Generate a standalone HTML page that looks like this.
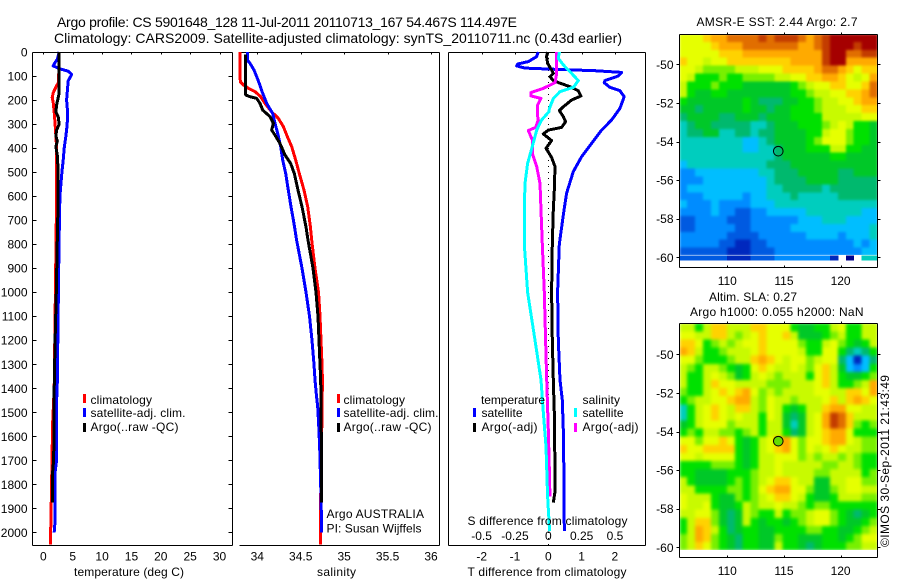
<!DOCTYPE html>
<html>
<head>
<meta charset="utf-8">
<style>
html,body{margin:0;padding:0;background:#fff;}
svg{display:block;}
text{font-family:"Liberation Sans",sans-serif;font-size:12px;fill:#000;}
</style>
</head>
<body>
<svg id="figure" xmlns="http://www.w3.org/2000/svg" width="900" height="580" viewBox="0 0 900 580">
<defs>
<filter id="sst-smooth" filterUnits="userSpaceOnUse" x="680" y="35" width="197" height="220" color-interpolation-filters="sRGB">
<feGaussianBlur stdDeviation="1.4" edgeMode="duplicate"/>
</filter>
<filter id="sla-smooth" filterUnits="userSpaceOnUse" x="680" y="324" width="197" height="226" color-interpolation-filters="sRGB">
<feGaussianBlur stdDeviation="1.6" edgeMode="duplicate"/>
</filter>
</defs>
<rect x="0" y="0" width="900" height="580" fill="#fff"/>
<text x="57" y="27" style="font-size:14px" textLength="460" lengthAdjust="spacing">Argo profile: CS 5901648_128 11-Jul-2011 20110713_167 54.467S 114.497E</text>
<text x="54" y="43" style="font-size:14px" textLength="568" lengthAdjust="spacing">Climatology: CARS2009. Satellite-adjusted climatology: synTS_20110711.nc (0.43d earlier)</text>

<g id="layer-maps"></g>
<g id="layer-lines"></g>

<g>
<rect x="83" y="394" width="3" height="9" fill="#f00"/>
<text x="90.5" y="404" textLength="61.5">climatology</text>
<rect x="83" y="408" width="3" height="9" fill="#00f"/>
<text x="90.5" y="417" textLength="95">satellite-adj. clim.</text>
<rect x="83" y="423" width="3" height="9" fill="#000"/>
<text x="90.5" y="431" textLength="88">Argo(..raw -QC)</text>
</g>

<g>
<rect x="337" y="394" width="3" height="9" fill="#f00"/>
<text x="343.5" y="404" textLength="61.5">climatology</text>
<rect x="337" y="408" width="3" height="9" fill="#00f"/>
<text x="343.5" y="417" textLength="95">satellite-adj. clim.</text>
<rect x="337" y="423" width="3" height="9" fill="#000"/>
<text x="343.5" y="431" textLength="88">Argo(..raw -QC)</text>
<text x="326.5" y="518" textLength="97.5">Argo AUSTRALIA</text>
<text x="326.5" y="532.5" textLength="95">PI: Susan Wijffels</text>
</g>

<g>
<text x="481" y="404" textLength="64">temperature</text>
<rect x="473" y="408" width="3" height="9" fill="#00f"/>
<text x="481.5" y="417" textLength="41">satellite</text>
<rect x="473" y="423" width="3" height="9" fill="#000"/>
<text x="481.5" y="431" textLength="56">Argo(-adj)</text>
<text x="582.5" y="404" textLength="37.5">salinity</text>
<rect x="574" y="408" width="3" height="9" fill="#0ff"/>
<text x="582.5" y="417" textLength="41">satellite</text>
<rect x="574" y="423" width="3" height="9" fill="#f0f"/>
<text x="582.5" y="431" textLength="56">Argo(-adj)</text>
</g>

<text x="74" y="576" textLength="110">temperature (deg C)</text>
<text x="317" y="576" textLength="39">salinity</text>
<text x="467.5" y="525" textLength="160">S difference from climatology</text>
<text x="467.5" y="576" textLength="159">T difference from climatology</text>

<text x="696.5" y="26" textLength="161">AMSR-E SST: 2.44  Argo: 2.7</text>
<text x="709" y="301" textLength="88">Altim. SLA: 0.27</text>
<text x="690" y="316" textLength="173.5">Argo h1000: 0.055 h2000: NaN</text>
<text transform="translate(889,547) rotate(-90)" x="0" y="0" textLength="172">©IMOS 30-Sep-2011 21:43:49</text>
</svg>

<script>
/* ---------- depth ticks ---------- */
var depthTicks = [0,100,200,300,400,500,600,700,800,900,1000,1100,1200,1300,1400,1500,1600,1700,1800,1900,2000];

/* ---------- temperature panel ---------- */
var tempTicks = [0,5,10,15,20,25,30];
var tempClimDepth = [0,100,130,140,170,190,210,250,300,350,400,500,600,800,1000,1200,1400,1550,1800,1950,2050];
var tempClimValue = [2.7,2.6,2.52,2.25,1.67,1.5,1.67,1.84,2.0,2.13,2.25,2.25,2.25,2.15,2.05,1.95,1.84,1.56,1.39,1.28,1.2];
var tempSatDepth = [0,30,45,58,70,80,93,100,120,150,200,250,300,350,400,450,500,600,800,1000,1200,1400,1450,1700,1750,1950,2000];
var tempSatValue = [2.7,2.36,1.96,1.67,2.81,4.23,4.8,4.68,4.23,4.12,3.95,4.12,4.05,3.83,3.55,3.38,3.15,2.81,2.65,2.55,2.45,2.35,2.25,2.25,2.0,2.0,1.84];
var tempArgoDepth = [0,170,190,220,250,270,300,325,350,370,395,430,500,600,800,1000,1200,1400,1550,1700,1750,1876];
var tempArgoValue = [2.7,2.7,2.52,2.25,2.13,2.52,2.7,2.25,2.13,2.36,2.13,2.36,2.52,2.52,2.35,2.2,2.0,1.84,1.84,1.73,1.56,1.56];

/* ---------- salinity panel ---------- */
var salTicks = [34,34.5,35,35.5,36];
var salTickLabels = ['34','34.5','35','35.5','36'];
var salClimDepth = [0,100,124,137,151,165,186,214,249,276,311,353,394,450,506,575,644,728,783,900,1000,1100,1200,1300,1365,1500,1850,2050];
var salClimValue = [33.80,33.80,33.805,33.839,33.897,33.974,34.039,34.089,34.165,34.242,34.30,34.346,34.396,34.442,34.484,34.538,34.58,34.611,34.626,34.664,34.705,34.722,34.733,34.745,34.749,34.745,34.73,34.725];
var salSatDepth = [0,33,47,75,103,131,172,214,256,297,339,394,450,506,575,644,714,783,900,1000,1100,1200,1300,1365,1428,1477,1553,1650,1851,2000];
var salSatValue = [33.885,33.885,33.916,33.962,33.993,34.023,34.062,34.108,34.177,34.204,34.235,34.269,34.292,34.327,34.357,34.388,34.423,34.453,34.515,34.561,34.601,34.63,34.653,34.664,34.68,34.695,34.707,34.718,34.733,34.741];
var salArgoDepth = [10,179,186,193,214,242,269,297,325,346,381,429,464,506,575,644,728,783,900,1000,1100,1200,1300,1365,1600,1876];
var salArgoValue = [33.866,33.866,33.916,33.993,34.031,34.062,34.146,34.185,34.165,34.204,34.261,34.319,34.384,34.426,34.469,34.515,34.561,34.584,34.641,34.676,34.699,34.71,34.722,34.73,34.737,34.737];

/* ---------- difference panel ---------- */
var diffTTicks = [-2,-1,0,1,2];
var diffSTicks = [-0.5,-0.25,0,0.25,0.5];
var diffSTickLabels = ['-0.5','-0.25','0','0.25','0.5'];
var diffTSatDepth = [0,19,40,50,58,67,72,78,85,100,119,128,147,161,186,235,283,325,380,436,498,588,658,800,1000,1200,1365,1449,1573,1781,1995];
var diffTSatValue = [-0.30,-0.35,-0.60,-0.92,-0.95,-0.70,0.20,1.40,2.20,2.10,1.70,1.68,1.85,2.15,2.28,2.15,1.90,1.60,1.30,1.00,0.75,0.55,0.47,0.33,0.28,0.30,0.35,0.42,0.45,0.47,0.48];
var diffTArgoDepth = [0,19,47,75,89,103,119,130,144,161,183,200,228,244,269,290,314,325,341,369,401,439,477,575,658,800,1000,1200,1365,1500,1750,1830,1876];
var diffTArgoValue = [-0.02,-0.05,-0.02,0.10,0.15,0.05,0.15,0.35,0.65,0.90,0.98,0.70,0.45,0.33,0.45,0.52,0.40,0.0,-0.15,0.10,-0.07,0.10,0.20,0.18,0.15,0.12,0.10,0.12,0.15,0.18,0.20,0.20,0.15];
var diffSArgoDepth = [0,89,128,151,169,183,193,221,262,283,314,327,366,422,477,547,658,800,1000,1200,1365,1573,1781,1850];
var diffSArgoValue = [0.063,0.063,0.05,-0.037,-0.13,-0.13,-0.055,-0.08,-0.082,-0.075,-0.095,-0.15,-0.12,-0.12,-0.087,-0.062,-0.055,-0.045,-0.03,-0.02,-0.012,0.0,0.01,0.012];
var diffSSatDepth = [0,26,54,82,119,147,165,193,235,248,283,325,394,464,547,658,800,1000,1200,1365,1504,1643,1850,1995];
var diffSSatValue = [0.083,0.075,0.113,0.163,0.225,0.188,0.088,0.038,0.008,0.005,-0.05,-0.087,-0.12,-0.155,-0.175,-0.18,-0.18,-0.155,-0.10,-0.055,-0.037,-0.017,-0.005,0.01];

/* ---------- maps ---------- */
var lonTicks = [110,115,120];
var latTicks = [-50,-52,-54,-56,-58,-60];
var floatLon = 114.5;
var floatLat = -54.5;
var sstLevels = [
[11,11,11,12,13,13,14,14,14,14,15,14,15,15,15,14,13,14,15,16,16,16,16,16,16],
[11,11,11,11,12,13,13,13,14,14,14,14,14,14,14,13,13,14,15,16,16,16,15,16,16],
[11,11,11,11,11,12,12,12,13,13,13,13,13,13,13,13,13,13,15,16,16,14,14,15,15],
[12,11,11,10,11,11,12,12,12,12,12,12,12,12,13,13,13,13,15,16,16,13,13,13,13],
[11,11,10,9,9,9,9,10,10,10,11,11,11,12,12,12,12,13,14,14,13,12,11,12,12],
[11,10,8,8,8,9,8,8,9,9,9,9,10,10,11,11,12,12,13,13,12,11,10,11,13],
[10,8,8,8,9,8,8,8,7,7,7,7,7,7,8,9,10,11,11,12,12,11,11,12,14],
[10,8,7,7,8,8,7,7,7,7,7,7,7,7,8,8,9,10,10,11,11,12,12,13,14],
[8,7,7,7,7,7,7,7,8,7,6,6,6,7,7,8,8,9,10,10,11,11,12,13,13],
[7,7,6,7,7,7,7,7,8,7,7,6,7,7,8,8,8,9,10,10,10,11,11,12,12],
[6,7,7,7,7,6,6,7,7,7,6,7,7,7,8,8,8,8,10,10,10,10,10,11,11],
[5,6,7,7,6,6,6,6,6,5,5,6,7,7,7,8,8,8,9,10,11,10,8,8,7],
[5,6,6,7,7,5,5,6,6,5,6,6,7,7,7,7,8,8,10,11,11,9,8,8,7],
[5,5,5,5,5,5,5,5,4,4,5,6,7,7,7,7,8,9,11,11,11,9,8,8,7],
[5,5,5,5,5,5,5,5,4,4,5,5,6,7,7,7,8,8,8,10,10,8,8,7,7],
[5,5,5,5,5,5,5,5,5,5,5,5,6,7,7,7,7,7,7,8,8,7,7,7,7],
[4,5,5,5,5,5,5,5,5,5,5,6,6,6,7,7,7,7,7,7,7,7,7,7,7],
[3,3,4,4,4,4,4,4,4,4,5,5,6,6,6,7,7,7,7,7,6,6,7,7,7],
[3,3,3,4,4,4,4,4,4,4,4,5,6,6,6,6,7,7,7,7,6,6,6,6,6],
[3,4,4,4,4,4,4,4,4,4,4,5,5,6,6,6,6,6,5,6,6,6,6,6,6],
[3,3,3,4,4,4,4,4,3,4,4,5,5,5,6,5,5,5,5,5,6,6,6,6,6],
[4,3,3,3,4,3,3,3,3,4,4,4,5,5,5,5,5,5,5,5,5,5,5,5,5],
[3,3,3,3,4,3,3,2,2,3,3,4,4,4,4,4,5,5,5,5,5,5,5,4,4],
[2,2,3,3,3,3,2,2,2,3,3,3,3,3,3,4,4,4,5,5,5,4,4,4,4],
[2,2,3,3,3,3,3,2,2,3,3,3,3,3,4,4,4,4,4,4,4,4,4,4,5],
[3,3,3,3,3,3,2,2,2,2,3,3,3,3,3,3,4,4,4,4,3,4,4,4,5],
[3,3,3,3,3,2,2,1,1,2,2,3,3,3,3,3,3,3,3,3,3,3,4,3,4],
[2,2,2,2,2,2,1,1,1,2,2,2,3,3,3,3,3,3,3,3,3,3,3,4,4],
[2,2,2,2,2,2,1,1,1,2,2,2,3,3,3,3,3,3,3,1,null,0,null,5,5]
];
var slaLevels = [
[10,10,8,10,12,12,10,10,10,12,12,11,11,11,8,7,7,8,8,10,11,8,8,10,10],
[11,11,10,10,12,12,10,9,10,11,12,11,11,12,10,7,7,7,8,9,10,8,8,10,10],
[12,12,11,8,9,10,9,10,11,11,12,11,11,11,11,9,8,8,10,11,9,8,7,8,10],
[13,12,10,8,8,9,10,10,10,11,12,11,11,11,11,10,8,8,11,11,8,6,5,6,8],
[11,11,9,8,8,8,9,10,10,12,13,12,11,10,11,11,9,10,11,11,6,4,1,4,6],
[10,9,8,10,10,9,8,7,8,11,12,11,10,10,11,10,9,11,12,10,7,4,3,4,8],
[10,8,8,10,11,10,9,7,8,10,11,10,9,10,10,10,8,11,12,10,8,7,7,8,9],
[10,8,8,10,12,11,11,10,10,10,10,9,9,9,10,10,10,11,12,10,8,8,9,10,13],
[9,8,8,10,11,12,11,12,13,11,9,10,9,10,10,10,10,11,11,10,10,12,12,11,13],
[8,9,10,10,11,11,12,13,13,10,9,11,10,10,9,10,10,10,11,12,10,12,13,12,11],
[5,8,10,11,12,11,10,12,12,10,9,11,10,8,7,8,10,10,12,13,13,11,11,10,10],
[5,8,10,11,12,11,10,11,10,10,8,11,10,7,6,7,10,11,13,15,14,12,10,10,10],
[7,8,10,11,11,11,9,10,10,10,8,10,10,7,5,7,10,11,13,15,14,12,9,8,9],
[8,9,8,10,10,9,9,8,9,10,8,10,10,8,6,7,10,11,12,13,13,11,8,8,8],
[11,11,9,11,11,12,11,8,7,8,10,11,13,13,11,9,11,11,12,13,13,11,10,9,9],
[12,11,11,12,12,12,12,8,7,8,10,11,12,13,11,9,11,10,11,12,11,10,10,9,9],
[11,11,10,11,11,11,11,8,7,8,10,10,11,11,11,9,10,9,10,10,9,10,9,8,8],
[8,8,8,8,9,9,9,8,7,8,10,10,11,10,10,10,10,10,9,9,10,10,9,8,8],
[8,8,7,7,7,7,8,8,8,9,10,10,11,10,10,10,10,9,9,10,10,10,10,8,9],
[10,8,7,7,7,7,8,9,8,9,10,11,12,12,11,10,10,7,7,10,10,11,11,9,9],
[10,10,8,8,8,8,9,9,8,9,11,12,13,13,11,11,9,7,7,9,10,11,11,10,10],
[11,10,10,10,8,7,7,9,8,9,10,11,12,12,11,10,8,7,7,8,10,10,10,9,9],
[11,10,10,11,8,7,7,8,10,9,10,10,11,10,10,9,8,9,9,8,8,8,8,8,8],
[10,10,11,11,9,7,6,7,10,9,8,8,10,8,9,9,10,11,11,9,8,7,6,7,8],
[8,10,12,12,9,7,6,7,10,8,7,8,8,7,8,9,10,11,11,9,8,7,7,8,9],
[8,10,13,12,10,8,6,7,8,8,7,7,8,8,8,8,9,9,8,8,7,7,8,9,10],
[9,10,13,12,9,8,7,6,8,8,7,7,9,8,8,7,7,7,8,8,7,8,9,11,11],
[9,10,12,11,9,8,7,6,8,8,7,7,10,8,8,7,6,7,8,8,8,9,9,10,10]
];

/* ---------- scales ---------- */
function yDepth(d){return 52+d*0.2402;}
function xTemp(t){return 43.4+t*5.87;}
function xSal(s){return 257.3+(s-34)*86.85;}
function xDiffT(t){return 548.3+t*33.3;}
function xDiffS(s){return 548.3+s*133.4;}
function xLon(lon){return 727.3+(lon-110)*11.33;}
function ySst(lat){return 64.3+(-50-lat)*19.3;}
function ySla(lat){return 354.3+(-50-lat)*19.3;}
function levelColor(v){return palette[v];}
var palette = ['#00008c','#0028be','#005ae1','#008cff','#00beff','#00cdbe','#00b96e','#00c828','#00e100','#78f000','#c8fa00','#e6ff00','#ffd200','#ffaa00','#e16e00','#c33c00','#a50000'];

/* ---------- helpers ---------- */
var NS='http://www.w3.org/2000/svg';
var layerLines=document.getElementById('layer-lines');
var layerMaps=document.getElementById('layer-maps');
function mk(tag,parent){var e=document.createElementNS(NS,tag);parent.appendChild(e);return e;}
function seg(parent,x1,y1,x2,y2){
  var e=mk('line',parent);
  e.setAttribute('x1',Math.round(x1)+0.5);
  e.setAttribute('y1',Math.round(y1)+0.5);
  e.setAttribute('x2',Math.round(x2)+0.5);
  e.setAttribute('y2',Math.round(y2)+0.5);
  e.setAttribute('stroke','#000');
  e.setAttribute('stroke-width','1');
  e.setAttribute('shape-rendering','crispEdges');
  return e;
}
function label(parent,x,y,str,anchor){
  var e=mk('text',parent);
  e.setAttribute('x',x);
  e.setAttribute('y',y);
  e.setAttribute('text-anchor',anchor);
  e.textContent=str;
  return e;
}
function series(parent,depths,values,xFn,color){
  var pts=[];
  for(var i=0;i<depths.length;i++){pts.push(xFn(values[i]).toFixed(1)+','+yDepth(depths[i]).toFixed(1));}
  var e=mk('polyline',parent);
  e.setAttribute('points',pts.join(' '));
  e.setAttribute('fill','none');
  e.setAttribute('stroke',color);
  e.setAttribute('stroke-width','3');
  e.setAttribute('shape-rendering','crispEdges');
  e.setAttribute('stroke-linejoin','round');
  return e;
}

/* ---------- temperature panel ---------- */
var gTemp=mk('g',layerLines);


[[32,52,232,52],[32,545,232,545],[32,52,32,545],[232,52,232,545]].forEach(function(s){
  var b=seg(gTemp,s[0],s[1],s[2],s[3]);
  
  
});
depthTicks.forEach(function(d){
  var y=yDepth(d);
  var tl=seg(gTemp,32,y,36,y);
  
  
  var tr=seg(gTemp,228,y,232,y);
  
  
  var t=label(gTemp,27.5,y+4.5,String(d),'end');
  
  
});
tempTicks.forEach(function(v){
  var x=xTemp(v);
  var tk=seg(gTemp,x,52,x,54);
  
  
  var t=label(gTemp,x,560.5,String(v),'middle');
  
  
});
var lineTempClim=series(gTemp,tempClimDepth,tempClimValue,xTemp,'#f00');


var lineTempSat=series(gTemp,tempSatDepth,tempSatValue,xTemp,'#00f');


var lineTempArgo=series(gTemp,tempArgoDepth,tempArgoValue,xTemp,'#000');



/* ---------- salinity panel ---------- */
var gSal=mk('g',layerLines);


[[239,52,439,52],[239,545,439,545],[439,52,439,545]].forEach(function(s){
  var b=seg(gSal,s[0],s[1],s[2],s[3]);
  
  
});
salTicks.forEach(function(v,i){
  var x=xSal(v);
  var tk=seg(gSal,x,52,x,54);
  
  
  var t=label(gSal,x,560.5,salTickLabels[i],'middle');
  
  
});
var lineSalClim=series(gSal,salClimDepth,salClimValue,xSal,'#f00');


var lineSalSat=series(gSal,salSatDepth,salSatValue,xSal,'#00f');


var lineSalArgo=series(gSal,salArgoDepth,salArgoValue,xSal,'#000');



/* ---------- difference panel ---------- */
var gDiff=mk('g',layerLines);


[[448,52,645,52],[448,545,645,545],[448,52,448,545],[645,52,645,545]].forEach(function(s){
  var b=seg(gDiff,s[0],s[1],s[2],s[3]);
  
  
});
diffTTicks.forEach(function(v){
  var x=xDiffT(v);
  var tk=seg(gDiff,x,52,x,54);
  
  
  var t=label(gDiff,x,560.5,String(v),'middle');
  
  
});
diffSTicks.forEach(function(v,i){
  var t=label(gDiff,xDiffS(v),540,diffSTickLabels[i],'middle');
  
  
});
var zeroLine=mk('line',gDiff);
zeroLine.setAttribute('x1',xDiffT(0));
zeroLine.setAttribute('x2',xDiffT(0));
zeroLine.setAttribute('y1',yDepth(0));
zeroLine.setAttribute('y2',545);
zeroLine.setAttribute('stroke','#000');
zeroLine.setAttribute('stroke-width','1');
zeroLine.setAttribute('stroke-dasharray','1 5');
zeroLine.setAttribute('shape-rendering','crispEdges');


var lineDiffTSat=series(gDiff,diffTSatDepth,diffTSatValue,xDiffT,'#00f');


var lineDiffTArgo=series(gDiff,diffTArgoDepth,diffTArgoValue,xDiffT,'#000');


var lineDiffSArgo=series(gDiff,diffSArgoDepth,diffSArgoValue,xDiffS,'#f0f');


var lineDiffSSat=series(gDiff,diffSSatDepth,diffSSatValue,xDiffS,'#0ff');



/* ---------- maps ---------- */
var cellLon=0.7, lonStart=105.76;
function drawMap(levels,latTop,cellLat,yFn,clipBottom,top,bottom,xLabelY,parent,filterId,sharpRows){
  var smooth=mk('g',parent);
  smooth.setAttribute('filter','url(#'+filterId+')');
  
  
  for(var r=0;r<levels.length;r++){
    var holder=(r>=levels.length-sharpRows)?parent:smooth;
    for(var c=0;c<levels[r].length;c++){
      var v=levels[r][c];
      if(v===null||v===undefined){continue;}
      var lon=lonStart+c*cellLon, lat=latTop-r*cellLat;
      var y0=yFn(lat), y1=Math.min(yFn(lat-cellLat),clipBottom);
      var x0=xLon(lon), x1=xLon(lon+cellLon);
      var cell=mk('rect',holder);
      cell.setAttribute('x',x0.toFixed(2));
      cell.setAttribute('y',y0.toFixed(2));
      cell.setAttribute('width',(x1-x0+0.5).toFixed(2));
      cell.setAttribute('height',(y1-y0+0.4).toFixed(2));
      cell.setAttribute('fill',levelColor(v));
      cell.setAttribute('shape-rendering','crispEdges');
      
      
    }
  }
  var L=679,R=877;
  [[L,top,R,top],[L,bottom,R,bottom],[L,top,L,bottom],[R,top,R,bottom]].forEach(function(s){
    var b=seg(parent,s[0],s[1],s[2],s[3]);
    
    
  });
  lonTicks.forEach(function(v){
    var x=xLon(v);
    var tt=seg(parent,x,top-2,x,top);
    
    
    var tb=seg(parent,x,bottom-2,x,bottom);
    
    
    var t=label(parent,x,xLabelY,String(v),'middle');
    
    
  });
  latTicks.forEach(function(v){
    var y=yFn(v);
    var tl=seg(parent,L-3,y,L,y);
    
    
    var tr=seg(parent,R,y,R+3,y);
    
    
    var t=label(parent,673.5,y+4.5,String(v),'end');
    
    
  });
}
var gSst=mk('g',layerMaps);


drawMap(sstLevels,-48.43,0.41,ySst,260,34,267,285,gSst,'sst-smooth',1);
var sstMarker=mk('circle',gSst);
sstMarker.setAttribute('cx',xLon(floatLon));
sstMarker.setAttribute('cy',ySst(floatLat));
sstMarker.setAttribute('r','4.8');
sstMarker.setAttribute('fill','none');
sstMarker.setAttribute('stroke','#000');
sstMarker.setAttribute('stroke-width','1');



var gSla=mk('g',layerMaps);


drawMap(slaLevels,-48.39,0.42,ySla,550,323,557,575,gSla,'sla-smooth',0);
var slaMarker=mk('circle',gSla);
slaMarker.setAttribute('cx',xLon(floatLon));
slaMarker.setAttribute('cy',ySla(floatLat));
slaMarker.setAttribute('r','4.8');
slaMarker.setAttribute('fill','#64dc00');
slaMarker.setAttribute('stroke','#000');
slaMarker.setAttribute('stroke-width','1');


</script>
</body>
</html>
